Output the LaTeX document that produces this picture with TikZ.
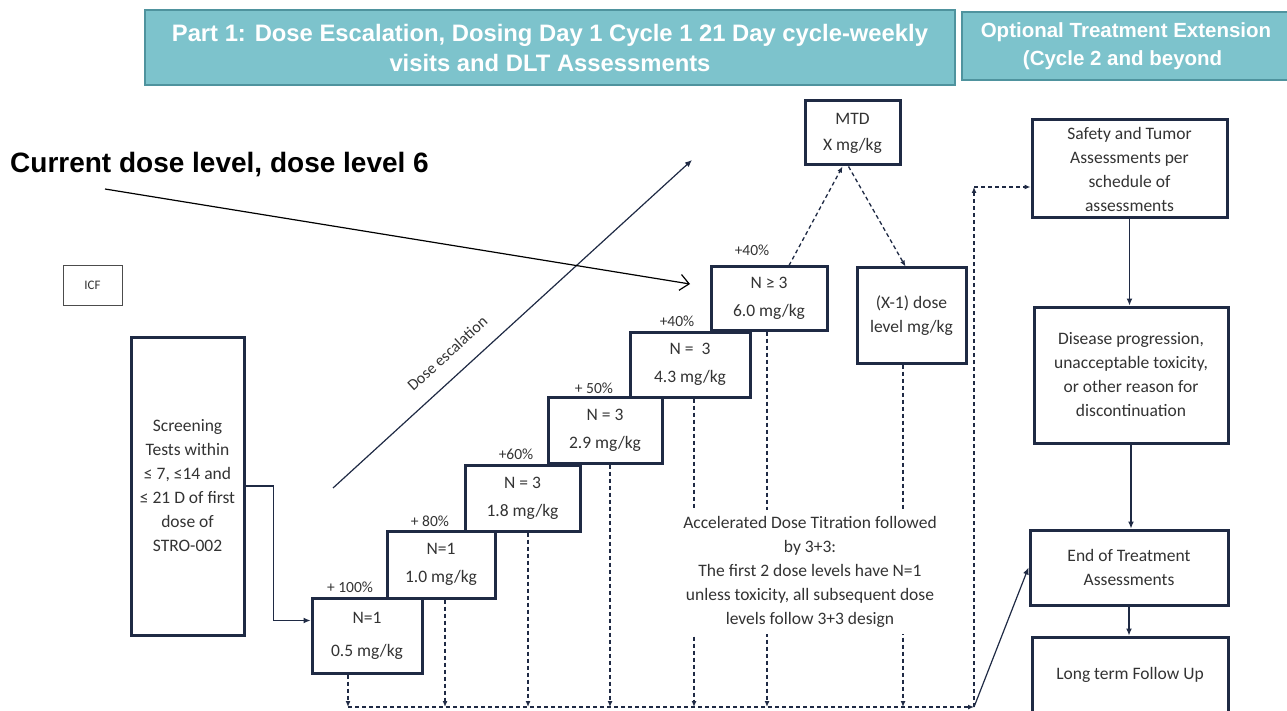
\documentclass[tikz,border=0pt]{standalone}
\usepackage{fontspec}
\setmainfont{Carlito}
\newfontfamily\headfont{Liberation Sans}
\usepackage{tikz}
\usetikzlibrary{arrows.meta}
\usepackage{xcolor}
\definecolor{navy}{HTML}{1F2A44}
\definecolor{headfill}{HTML}{7DC3CC}
\definecolor{headline}{HTML}{4F939E}

\begin{document}
\begin{tikzpicture}[x=1pt, y=-1pt,
  header/.style={draw=headline, line width=2.5pt, fill=headfill, text=white, align=center, inner sep=0pt},
  dosebox/.style={draw=navy, line width=3pt, fill=white, align=center, inner sep=0pt, text=black!80, font=\fontsize{17.5}{28}\selectfont},
  flowbox/.style={draw=navy, line width=3pt, fill=white, align=center, inner sep=0pt, text=black!80, font=\fontsize{17.5}{24}\selectfont},
  pct/.style={text=black!80, font=\fontsize{15.5}{17}\selectfont, inner sep=0pt},
  dropline/.style={draw=navy, line width=1.3pt, dash pattern=on 4pt off 3pt, -{Latex[length=6pt,width=5pt]}},
  solidarrow/.style={draw=navy, line width=1.2pt, -{Latex[length=7pt,width=6pt]}},
  pointer/.style={draw=black, line width=1.2pt, -{Straight Barb[length=9pt,width=16pt]}}]
\clip (0, 0) rectangle (1287, 711) ;

% headers
\node(part1) at (550, 47.5) [header, minimum width=810pt, minimum height=75pt, font=\headfont\bfseries\fontsize{23.8}{30}\selectfont] {Part 1: Dose Escalation, Dosing Day 1 Cycle 1 21 Day cycle-weekly\\visits and DLT Assessments} ;
\node(optional) at (1126, 46) [header, minimum width=328pt, minimum height=68pt, font=\headfont\bfseries\fontsize{20.5}{28}\selectfont] {Optional Treatment Extension\\(Cycle 2 and beyond\phantom{)}} ;

\node(current) at (10, 165) [anchor=west, inner sep=0pt, font=\headfont\bfseries\fontsize{28}{32}\selectfont] {Current dose level, dose level 6} ;

% left side
\node(icf) at (92.5, 285) [draw=black!70, line width=0.8pt, minimum width=59pt, minimum height=40pt, inner sep=0pt, text=black!80, font=\fontsize{13}{15}\selectfont] {ICF} ;
\node(screen) at (187.5, 486) [flowbox, minimum width=113pt, minimum height=298pt] {Screening\\Tests within\\≤ 7, ≤14 and\\≤ 21 D of first\\dose of\\STRO-002} ;

% dose levels
\node(b1) at (367, 635.5) [dosebox, minimum width=110pt, minimum height=75pt] {N=1\\[5pt]0.5 mg/kg} ;
\node(b2) at (441, 564.5) [dosebox, minimum width=108pt, minimum height=67pt] {N=1\\1.0 mg/kg} ;
\node(b3) at (522.5, 498) [dosebox, minimum width=115pt, minimum height=66pt] {N = 3\\1.8 mg/kg} ;
\node(b4) at (605, 430) [dosebox, minimum width=114pt, minimum height=66pt] {N = 3\\2.9 mg/kg} ;
\node(b5) at (690, 364.5) [dosebox, minimum width=120pt, minimum height=65pt] {N = \ 3\\4.3 mg/kg} ;
\node(b6) at (769, 298.5) [dosebox, minimum width=116pt, minimum height=63pt] {N ≥ 3\\6.0 mg/kg} ;
\node(mtd) at (852.5, 133) [flowbox, minimum width=95pt, minimum height=64pt, font=\fontsize{17.5}{26}\selectfont] {MTD\\X mg/kg} ;
\node(x1) at (911.5, 315.5) [flowbox, minimum width=109pt, minimum height=95pt] {(X-1) dose\\level mg/kg} ;

\node(p1) at (350, 587) [pct] {+ 100\%} ;
\node(p2) at (430, 521) [pct] {+ 80\%} ;
\node(p3) at (516, 454) [pct] {+60\%} ;
\node(p4) at (594, 388) [pct] {+ 50\%} ;
\node(p5) at (677, 321) [pct] {+40\%} ;
\node(p6) at (752, 250) [pct] {+40\%} ;

% extension column
\node(safety) at (1129.5, 169) [flowbox, minimum width=195pt, minimum height=98pt] {Safety and Tumor\\Assessments per\\schedule of\\assessments} ;
\node(disease) at (1131, 375) [flowbox, minimum width=194pt, minimum height=136pt] {Disease progression,\\unacceptable toxicity,\\or other reason for\\discontinuation} ;
\node(end) at (1129, 567.5) [flowbox, minimum width=198pt, minimum height=75pt] {End of Treatment\\Assessments} ;
\node(long) at (1130, 675) [flowbox, minimum width=196pt, minimum height=76pt] {Long term Follow Up} ;

\coordinate(curtail) at (105, 189) ;
\coordinate(curtip) at (690, 284) ;
\coordinate(esctail) at (333, 488) ;
\coordinate(esctip) at (692, 160) ;
\coordinate(f1) at (348, 707) ;
\coordinate(f2) at (445, 707) ;
\coordinate(f3) at (528, 707) ;
\coordinate(f4) at (610, 707) ;
\coordinate(f5) at (694, 707) ;
\coordinate(f6) at (767, 707) ;
\coordinate(f7) at (903, 707) ;
\coordinate(corner) at (974, 707) ;
\coordinate(upturn) at (974, 187) ;

\draw[solidarrow] (esctail) -- node[pos=0.36, above=16pt, sloped, inner sep=0pt, text=black!80, font=\fontsize{16}{18}\selectfont] {Dose escalation} (esctip) ;
\draw[pointer] (curtail) -- (curtip) ;
\draw[solidarrow] (screen.east) -- ++(28, 0) |- ([yshift=15pt]b1.west) ;

\draw[dropline] (b1.south -| f1) -- (f1) ;
\draw[dropline] (b2.south -| f2) -- (f2) ;
\draw[dropline] (b3.south -| f3) -- (f3) ;
\draw[dropline] (b4.south -| f4) -- (f4) ;
\draw[dropline] (b5.south -| f5) -- (f5) ;
\draw[dropline] (b6.south -| f6) -- (f6) ;
\draw[dropline] (x1.south -| f7) -- (f7) ;
\draw[dropline] (f1) -- (corner) ;
\draw[dropline] (corner) -- (upturn) ;
\draw[dropline] (upturn) -- (safety.west |- upturn) ;
\draw[dropline] ([xshift=20pt]b6.north) -- ([xshift=-10pt]mtd.south) ;
\draw[dropline] ([xshift=-4pt]mtd.south) -- ([xshift=-6pt]x1.north) ;
\draw[solidarrow] (corner) -- (end.west) ;

\draw[solidarrow] (safety.south) -- (safety.south |- disease.north) ;
\draw[solidarrow] (disease.south) -- (disease.south |- end.north) ;
\draw[solidarrow] (end.south) -- (end.south |- long.north) ;

\node(titration) at (810, 572) [fill=white, align=center, inner sep=6pt, text=black!80, font=\fontsize{17.5}{24}\selectfont] {Accelerated Dose Titration followed\\by 3+3:\\The first 2 dose levels have N=1\\unless toxicity, all subsequent dose\\levels follow 3+3 design} ;
\end{tikzpicture}
\end{document}
